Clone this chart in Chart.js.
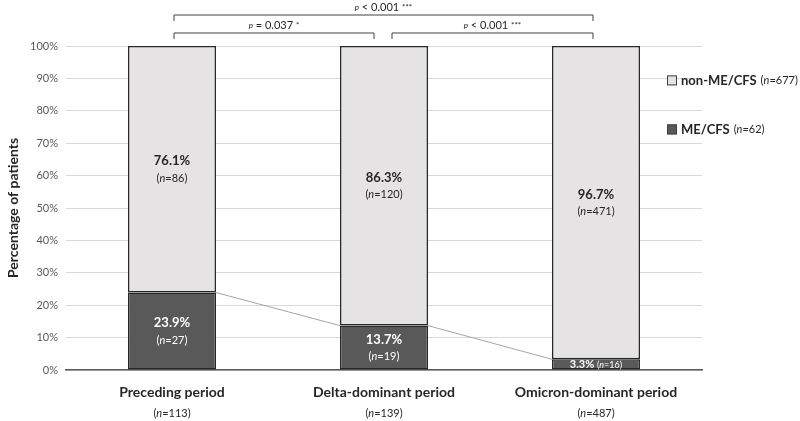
<!DOCTYPE html>
<html>
<head>
<meta charset="utf-8">
<script src="https://cdn.jsdelivr.net/npm/chart.js@4/dist/chart.umd.min.js"></script>
<style>
  html, body { margin: 0; padding: 0; background: #fff; }
  #wrap { width: 800px; height: 421px; }
</style>
</head>
<body>
<div id="wrap"><canvas id="chart"></canvas></div>
<script>
var periods = ['Preceding period', 'Delta-dominant period', 'Omicron-dominant period'];
var periodN = [113, 139, 487];
var mecfsPct = [23.9, 13.7, 3.3];
var mecfsN = [27, 19, 16];
var nonPct = [76.1, 86.3, 96.7];
var nonN = [86, 120, 471];
var legendItems = [
    { label: 'non-ME/CFS', n: 677, color: '#e5e3e4' },
    { label: 'ME/CFS', n: 62, color: '#595959' }
];
// brackets between periods: from, to, p text, stars
var brackets = [
    { from: 0, to: 2, level: 0, p: '< 0.001', stars: '***' },
    { from: 0, to: 1, level: 1, p: '= 0.037', stars: '*' },
    { from: 1, to: 2, level: 1, p: '< 0.001', stars: '***' }
];

var FONT = 'Lato, "Open Sans", sans-serif';

function drawMixed(ctx, parts, cx, y) {
    // parts: [{t, f}] drawn centered at cx
    var total = 0;
    parts.forEach(function (p) { ctx.font = p.f; total += ctx.measureText(p.t).width; });
    var x = cx - total / 2;
    ctx.textAlign = 'left';
    parts.forEach(function (p) {
        ctx.font = p.f;
        ctx.fillText(p.t, x, y);
        x += ctx.measureText(p.t).width;
    });
}

function nParts(n, size) {
    return [{ t: '(', f: size + 'px ' + FONT }, { t: 'n', f: 'italic ' + size + 'px ' + FONT }, { t: '=' + n + ')', f: size + 'px ' + FONT }];
}

var extrasPlugin = {
    id: 'extras',
    afterDatasetsDraw: function (chart) {
        var ctx = chart.ctx;
        var m0 = chart.getDatasetMeta(0), m1 = chart.getDatasetMeta(1);
        var yS = chart.scales.y;
        ctx.save();
        // series lines between ME/CFS tops
        ctx.strokeStyle = '#a6a6a6';
        ctx.lineWidth = 1;
        for (var i = 0; i < m0.data.length - 1; i++) {
            var a = m0.data[i], b = m0.data[i + 1];
            ctx.beginPath();
            ctx.moveTo(a.x + a.width / 2, a.y);
            ctx.lineTo(b.x - b.width / 2, b.y);
            ctx.stroke();
        }
        ctx.textBaseline = 'middle';
        // labels inside bars
        for (var j = 0; j < periods.length; j++) {
            var nb = m1.data[j], mb = m0.data[j];
            var cNon = (nb.y + nb.base) / 2;
            ctx.fillStyle = '#262626';
            drawMixed(ctx, [{ t: nonPct[j].toFixed(1) + '%', f: 'bold 13px ' + FONT }], nb.x, cNon - 8);
            drawMixed(ctx, nParts(nonN[j], 11), nb.x, cNon + 9);
            ctx.fillStyle = '#ffffff';
            var cMe = (mb.y + mb.base) / 2;
            if (mb.base - mb.y > 30) {
                drawMixed(ctx, [{ t: mecfsPct[j].toFixed(1) + '%', f: 'bold 13px ' + FONT }], mb.x, cMe - 8);
                drawMixed(ctx, nParts(mecfsN[j], 11), mb.x, cMe + 9);
            } else {
                drawMixed(ctx, [{ t: mecfsPct[j].toFixed(1) + '% ', f: 'bold 11px ' + FONT }].concat(nParts(mecfsN[j], 9)), mb.x, cMe + 0.5);
            }
        }
        // category labels under axis
        var base = yS.getPixelForValue(0);
        ctx.fillStyle = '#262626';
        for (var k = 0; k < periods.length; k++) {
            var cx = chart.scales.x.getPixelForValue(k);
            drawMixed(ctx, [{ t: periods[k], f: 'bold 14px ' + FONT }], cx, base + 22);
            drawMixed(ctx, nParts(periodN[k], 11), cx, base + 43);
        }
        // brackets
        ctx.strokeStyle = '#404040';
        ctx.lineWidth = 1;
        ctx.fillStyle = '#262626';
        var top = chart.chartArea.top;
        brackets.forEach(function (br) {
            var x1 = chart.scales.x.getPixelForValue(br.from) + 2;
            var x2 = chart.scales.x.getPixelForValue(br.to) - 3;
            if (br.level === 1) {
                if (br.to === 1) x2 -= 7;
                if (br.from === 1) x1 += 6;
            }
            var yb = top - 31 + br.level * 18;
            ctx.beginPath();
            ctx.moveTo(x1, yb + 6);
            ctx.lineTo(x1, yb);
            ctx.lineTo(x2, yb);
            ctx.lineTo(x2, yb + 6);
            ctx.stroke();
            drawMixed(ctx, [{ t: 'p', f: 'italic 8px ' + FONT }, { t: ' ' + br.p + ' ', f: '11px ' + FONT }, { t: br.stars, f: '8px ' + FONT }], (x1 + x2) / 2, yb - 8);
        });
        // legend
        legendItems.forEach(function (it, idx) {
            var ly = yS.getPixelForValue(90) + 2 + idx * 49;
            var lx = 667;
            ctx.fillStyle = it.color;
            ctx.fillRect(lx, ly - 5, 10, 10);
            ctx.strokeStyle = '#404040';
            ctx.strokeRect(lx + 0.5, ly - 4.5, 9, 9);
            ctx.fillStyle = '#262626';
            ctx.textAlign = 'left';
            ctx.font = 'bold 13px ' + FONT;
            var tx = lx + 14;
            ctx.fillText(it.label, tx, ly);
            tx += ctx.measureText(it.label).width + 4;
            ctx.font = '11px ' + FONT;
            ctx.fillText('(', tx, ly);
            tx += ctx.measureText('(').width;
            ctx.font = 'italic 11px ' + FONT;
            ctx.fillText('n', tx, ly);
            tx += ctx.measureText('n').width;
            ctx.font = '11px ' + FONT;
            ctx.fillText('=' + it.n + ')', tx, ly);
        });
        ctx.restore();
    }
};

var ctx = document.getElementById('chart').getContext('2d');
var chart = new Chart(ctx, {
    type: 'bar',
    data: {
        labels: periods,
        datasets: [{
            label: 'ME/CFS',
            data: mecfsPct,
            backgroundColor: '#595959',
            borderColor: '#262626',
            borderWidth: 1.5,
            borderSkipped: false
        }, {
            label: 'non-ME/CFS',
            data: nonPct,
            backgroundColor: '#e5e3e4',
            borderColor: '#262626',
            borderWidth: 1.5,
            borderSkipped: false
        }]
    },
    options: {
        responsive: true, maintainAspectRatio: false, animation: false,
        layout: { padding: { top: 46, right: 98, bottom: 43, left: 5 } },
        datasets: { bar: { barPercentage: 0.415, categoryPercentage: 1 } },
        plugins: { legend: { display: false }, tooltip: { enabled: false } },
        scales: {
            x: {
                stacked: true,
                grid: { display: false },
                border: { display: true, color: '#595959', width: 1.5 },
                ticks: { display: false }
            },
            y: {
                stacked: true,
                min: 0, max: 100,
                ticks: {
                    stepSize: 10, color: '#595959', padding: 8,
                    font: { family: FONT, size: 11 },
                    callback: function (v) { return v + '%'; }
                },
                grid: { color: '#d9d9d9', drawTicks: false },
                border: { display: false },
                title: {
                    display: true, text: 'Percentage of patients', color: '#262626',
                    font: { family: FONT, size: 14, weight: 'bold' }, padding: { top: 0, bottom: 4 }
                },
                afterFit: function (scale) { scale.width = 61; }
            }
        }
    },
    plugins: [extrasPlugin]
});
</script>
</body>
</html>
